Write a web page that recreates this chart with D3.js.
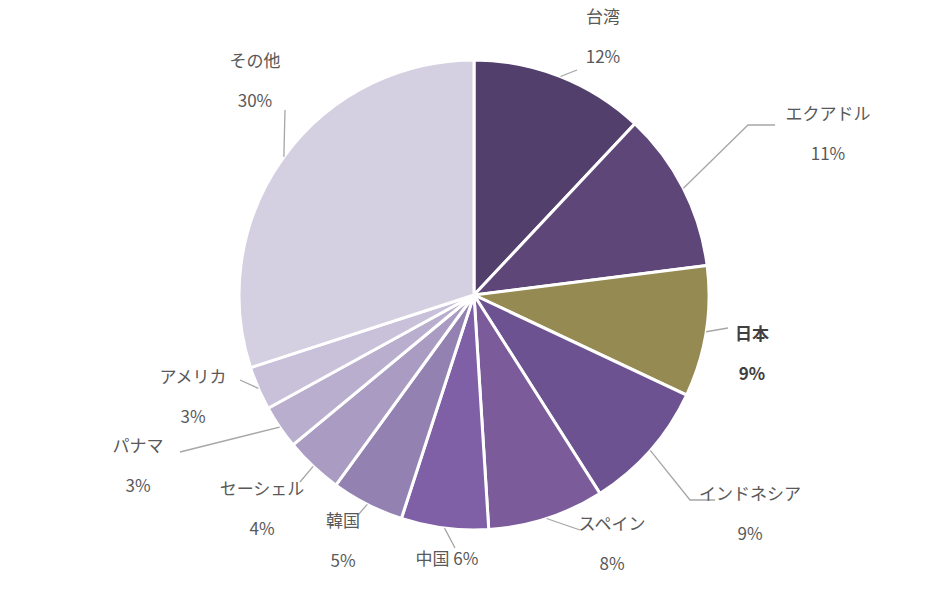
<!DOCTYPE html>
<html lang="ja">
<head>
<meta charset="UTF-8">
<script src="https://cdn.jsdelivr.net/npm/d3@7"></script>
<style>
  body{margin:0;background:#fff;}
  text{font-family:"Noto Sans CJK JP","Noto Sans",sans-serif;fill:#595959;font-size:17px;}
</style>
</head>
<body>
<div class="container"></div>
<script>
    // data
    const names = ["台湾","エクアドル","日本","インドネシア","スペイン","中国","韓国","セーシェル","パナマ","アメリカ","その他"]
    const shares = [12,11,9,9,8,6,5,4,3,3,30]
    const colors = ["#533f6b","#5e4778","#948a52","#6c5290","#7b5b99","#7f5fa6","#9382b1","#a99bc2","#b9aecd","#c9c1da","#d5d0e1"]

    // label layout: text centre, leader line points
    const labelPos = [[603,18],[828,115],[752,335],[750,495],[612,525],[447,560],[343,522],[262,490],[138,447],[193,378],[255,62]]
    const leaders = [
        [[0.98,545],[577,70]],
        [[0.98,null],[748,125],[775,125]],
        [[0.98,null],[728,328]],
        [[0.98,null],[690,500],[715,500]],
        [[0.98,null],[580,530]],
        [[0.98,null],[455,548]],
        [[0.98,null],[358,515]],
        [[0.98,null],[300,482]],
        [[0.98,null],[180,452]],
        [[0.98,null],[240,380]],
        [[0.98,null],[285,110]]
    ]

    const cx = 474, cy = 295, r = 235
    const svg = d3.select('.container').append('svg').attr('width',947).attr('height',590)
    const g = svg.append('g').attr('transform',`translate(${cx},${cy})`)

    const pie = d3.pie().sort(null).value(d=>d)
    const arcs = pie(shares)
    const arc = d3.arc().innerRadius(0).outerRadius(r)

    g.selectAll('path').data(arcs).join('path')
        .attr('d',arc)
        .attr('fill',(d,i)=>colors[i])
        .attr('stroke','#fff').attr('stroke-width',3)

    // leader lines
    const edge = d3.arc().innerRadius(r).outerRadius(r)
    arcs.forEach((a,i)=>{
        const p = edge.centroid(a)
        const pts = [[p[0]+cx,p[1]+cy]].concat(leaders[i].slice(1))
        svg.append('path')
            .attr('d',d3.line()(pts))
            .attr('fill','none').attr('stroke','#a6a6a6').attr('stroke-width',1.3)
    })

    // labels
    names.forEach((n,i)=>{
        const [x,y] = labelPos[i]
        const bold = n==="日本"
        if(n==="中国"){
            svg.append('text').attr('x',x).attr('y',y).attr('text-anchor','middle')
                .attr('dominant-baseline','middle').text(`${n} ${shares[i]}%`)
            return
        }
        svg.append('text').attr('x',x).attr('y',y).attr('text-anchor','middle')
            .attr('dominant-baseline','middle').style('font-weight',bold?'bold':null)
            .style('fill',bold?'#404040':null).text(n)
        svg.append('text').attr('x',x).attr('y',y+40).attr('text-anchor','middle')
            .attr('dominant-baseline','middle').style('font-weight',bold?'bold':null)
            .style('fill',bold?'#404040':null).text(shares[i]+'%')
    })
</script>
</body>
</html>
